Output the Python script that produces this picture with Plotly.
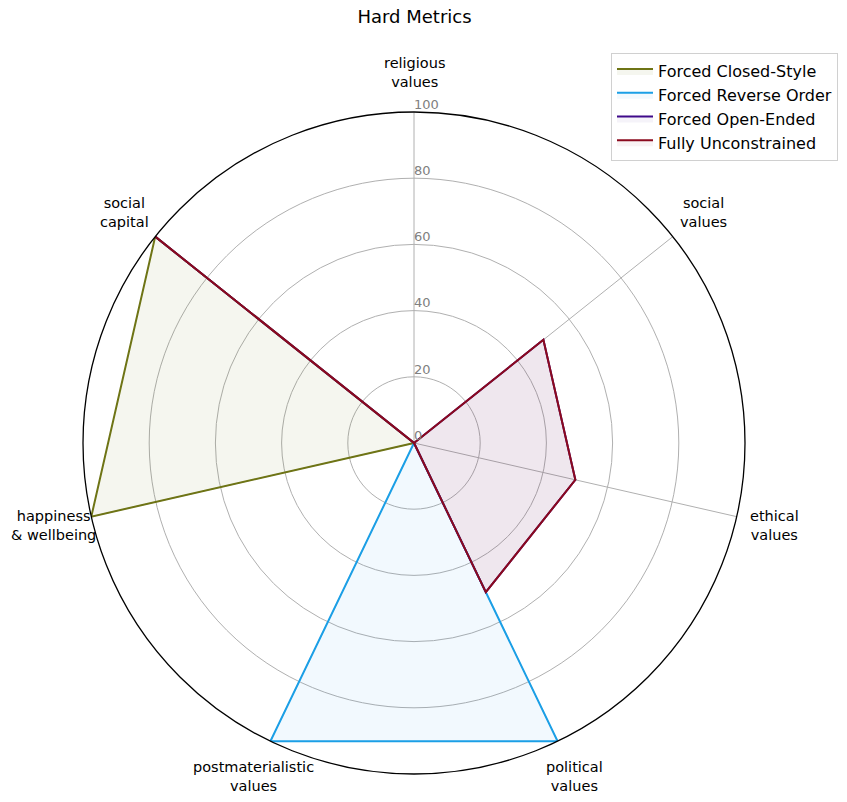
import math
import plotly.graph_objects as go

categories = ["religious<br>values", "social<br>values", "ethical<br>values", "political<br>values",
              "postmaterialistic<br>values", "happiness<br>& wellbeing", "social<br>capital"]
series_names = ["Forced Closed-Style", "Forced Reverse Order", "Forced Open-Ended", "Fully Unconstrained"]
closed_style = [0, 0, 0, 0, 0, 100, 100]
reverse_order = [0, 0, 0, 100, 100, 0, 0]
open_ended = [0, 50, 50, 50, 0, 0, 100]
unconstrained = [0, 50, 50, 50, 0, 0, 100]
radial_ticks = [0, 20, 40, 60, 80, 100]

values = [closed_style, reverse_order, open_ended, unconstrained]
colors = ["#6e7415", "#1b9fe6", "#3f0a8a", "#8b0a1e"]
fills = ["rgba(110,116,21,0.065)", "rgba(27,159,230,0.06)", "rgba(63,10,138,0.05)", "rgba(139,10,30,0.05)"]

W, H = 847, 802
CX, CY, R = 414, 443, 331          # polar centre and radius in pixels
LABEL_PAD = 1.118                   # category labels sit just outside the circle

fig = go.Figure()
for name, vals, c, f in zip(series_names, values, colors, fills):
    fig.add_trace(go.Scatterpolar(
        r=vals + vals[:1], theta=categories + categories[:1],
        mode="lines", name=name, fill="toself", fillcolor=f,
        line=dict(color=c, width=2),
    ))

# radial tick labels to the right of the first axis
fig.add_trace(go.Scatterpolar(
    r=radial_ticks, theta=[categories[0]] * len(radial_ticks), text=[str(v) for v in radial_ticks],
    mode="text", textposition="top right", cliponaxis=False,
    textfont=dict(size=13, color="#808080", family="DejaVu Sans"),
    showlegend=False, hoverinfo="skip",
))

# category labels centred outside the circle (matplotlib style)
annotations = []
n = len(categories)
for i, lab in enumerate(categories):
    ang = 2 * math.pi * i / n
    px = CX + R * LABEL_PAD * math.sin(ang)
    py = CY - R * LABEL_PAD * math.cos(ang)
    annotations.append(dict(text=lab, x=px / W, y=1 - py / H, xref="paper", yref="paper",
                            xanchor="center", yanchor="middle", showarrow=False,
                            font=dict(size=14.5, color="black", family="DejaVu Sans")))

fig.update_layout(
    width=W, height=H,
    paper_bgcolor="white", plot_bgcolor="white",
    font=dict(family="DejaVu Sans", color="black"),
    margin=dict(l=0, r=0, t=0, b=0),
    title=dict(text="Hard Metrics", x=414.5 / W, xanchor="center", y=1 - 17 / H, yanchor="middle",
               font=dict(size=18, color="black")),
    showlegend=True,
    legend=dict(x=838 / W, xanchor="right", y=1 - 53 / H, yanchor="top",
                bordercolor="#d0d0d0", borderwidth=1, bgcolor="white",
                font=dict(size=16, color="black"), tracegroupgap=0, itemwidth=36),
    annotations=annotations,
    polar=dict(
        domain=dict(x=[(CX - R) / W, (CX + R) / W], y=[1 - (CY + R) / H, 1 - (CY - R) / H]),
        bgcolor="white",
        angularaxis=dict(rotation=90, direction="clockwise", showline=True,
                         linecolor="black", linewidth=1.3, gridcolor="#b0b0b0", gridwidth=1,
                         ticks="", showticklabels=False),
        radialaxis=dict(range=[0, 100], tickvals=radial_ticks, angle=90, showline=False,
                        gridcolor="#b0b0b0", gridwidth=1, ticks="", showticklabels=False),
    ),
)

fig.write_html("out.html", config={"displayModeBar": False},
               post_script="document.body.style.margin='0px';")
